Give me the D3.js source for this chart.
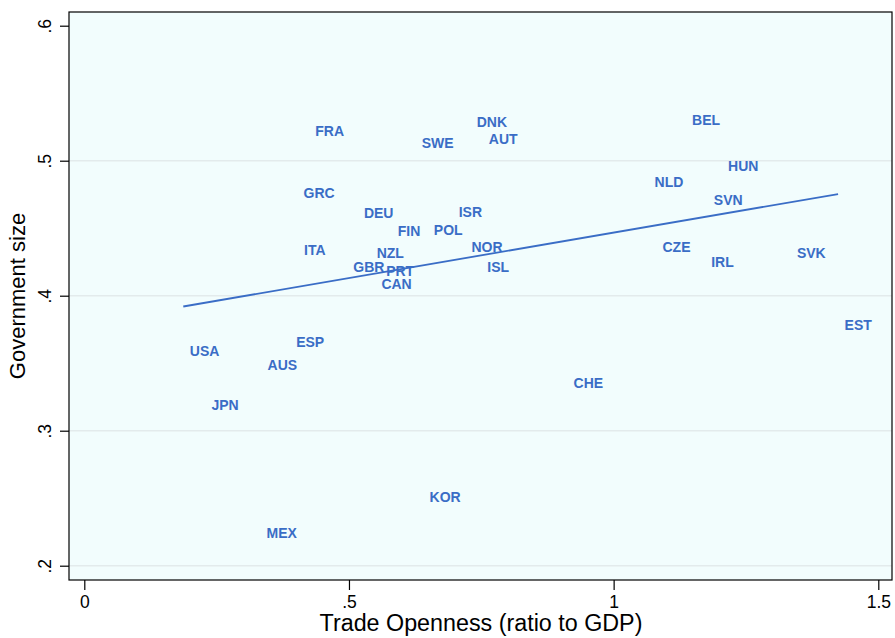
<!DOCTYPE html>
<html>
<head>
<meta charset="utf-8">
<script src="https://cdn.jsdelivr.net/npm/d3@7"></script>
<style>
  html, body { margin: 0; padding: 0; background: #ffffff; }
  svg { display: block; font-family: "Liberation Sans", Arial, Helvetica, sans-serif; }
</style>
</head>
<body>
<svg id="chart" width="895" height="638"></svg>
<script>
// OECD countries: trade openness vs. government size
const countries = ["USA","JPN","AUS","MEX","ESP","ITA","GRC","FRA","GBR","DEU",
                   "NZL","CAN","PRT","FIN","SWE","POL","KOR","ISR","NOR","DNK",
                   "ISL","AUT","CHE","NLD","CZE","BEL","IRL","SVN","HUN","SVK","EST"];
const tradeOpenness = [0.187,0.228,0.334,0.332,0.388,0.403,0.402,0.424,0.496,0.516,
                       0.540,0.549,0.558,0.580,0.625,0.648,0.640,0.695,0.719,0.729,
                       0.749,0.752,0.912,1.065,1.080,1.136,1.172,1.177,1.204,1.334,1.424];
const govSize = [0.359,0.319,0.349,0.224,0.366,0.434,0.476,0.522,0.421,0.461,
                 0.432,0.409,0.418,0.448,0.513,0.449,0.251,0.462,0.436,0.529,
                 0.421,0.516,0.335,0.484,0.436,0.530,0.425,0.471,0.496,0.432,0.378];
// fitted values of the linear fit at the ends of the observed range
const fitX = [0.187, 1.424];
const fitY = [0.392, 0.4753];
const xTicks = [0, 0.5, 1, 1.5];
const yTicks = [0.2, 0.3, 0.4, 0.5, 0.6];
const yGrid = [0.2, 0.3, 0.4, 0.5];
const xTitle = "Trade Openness (ratio to GDP)";
const yTitle = "Government size";

const svg = d3.select("#chart");
const frame = { left: 69, right: 892, top: 12, bottom: 580 };

const x = d3.scaleLinear().domain([0, 1.5]).range([84.3, 878.3]);
const y = d3.scaleLinear().domain([0.2, 0.6]).range([565.7, 25.7]);

const blue = "#3a6dc6";
const fmt = v => (v === 0 ? "0" : String(v).replace(/^0\./, "."));

// plot region
svg.append("rect")
  .attr("x", frame.left).attr("y", frame.top)
  .attr("width", frame.right - frame.left).attr("height", frame.bottom - frame.top)
  .attr("fill", "#f2fdfd");

// horizontal grid lines
svg.append("g").selectAll("line").data(yGrid).join("line")
  .attr("x1", frame.left).attr("x2", frame.right)
  .attr("y1", d => y(d)).attr("y2", d => y(d))
  .attr("stroke", "#e3ebec").attr("stroke-width", 1.4);

// linear fit line
svg.append("path")
  .attr("d", d3.line().x(d => x(d[0])).y(d => y(d[1]))(d3.zip(fitX, fitY)))
  .attr("stroke", blue).attr("stroke-width", 1.8).attr("fill", "none");

// country labels placed to the right of each observation
svg.append("g").selectAll("text").data(countries).join("text")
  .attr("x", (d, i) => x(tradeOpenness[i]) + 6.5)
  .attr("y", (d, i) => y(govSize[i]))
  .attr("dy", "0.36em")
  .attr("font-size", 14).attr("font-weight", "bold")
  .attr("fill", blue)
  .text(d => d);

// frame
svg.append("rect")
  .attr("x", frame.left).attr("y", frame.top)
  .attr("width", frame.right - frame.left).attr("height", frame.bottom - frame.top)
  .attr("fill", "none").attr("stroke", "#000").attr("stroke-width", 1.2);

// x axis
const xAxis = svg.append("g").attr("transform", `translate(0,${frame.bottom})`)
  .call(d3.axisBottom(x).tickValues(xTicks).tickFormat(fmt).tickSize(10).tickPadding(6));
xAxis.select(".domain").remove();
xAxis.selectAll("line").attr("stroke", "#000").attr("stroke-width", 1.2);
xAxis.selectAll("text").attr("font-size", 17.5).attr("fill", "#000")
  .attr("font-family", "Liberation Sans, Arial, sans-serif");

// y axis with rotated labels
const yAxis = svg.append("g").attr("transform", `translate(${frame.left},0)`)
  .call(d3.axisLeft(y).tickValues(yTicks).tickFormat(fmt).tickSize(9));
yAxis.select(".domain").remove();
yAxis.selectAll("line").attr("stroke", "#000").attr("stroke-width", 1.2);
yAxis.selectAll("text")
  .attr("x", null).attr("dy", null)
  .attr("transform", "translate(-18.3,0) rotate(-90)")
  .attr("text-anchor", "middle")
  .attr("font-size", 17.5).attr("fill", "#000")
  .attr("font-family", "Liberation Sans, Arial, sans-serif");

// axis titles
svg.append("text")
  .attr("x", 481).attr("y", 631)
  .attr("text-anchor", "middle").attr("font-size", 23.3).attr("fill", "#000")
  .text(xTitle);
svg.append("text")
  .attr("transform", `translate(25,${(frame.top + frame.bottom) / 2}) rotate(-90)`)
  .attr("text-anchor", "middle").attr("font-size", 22).attr("fill", "#000")
  .text(yTitle);
</script>
</body>
</html>
